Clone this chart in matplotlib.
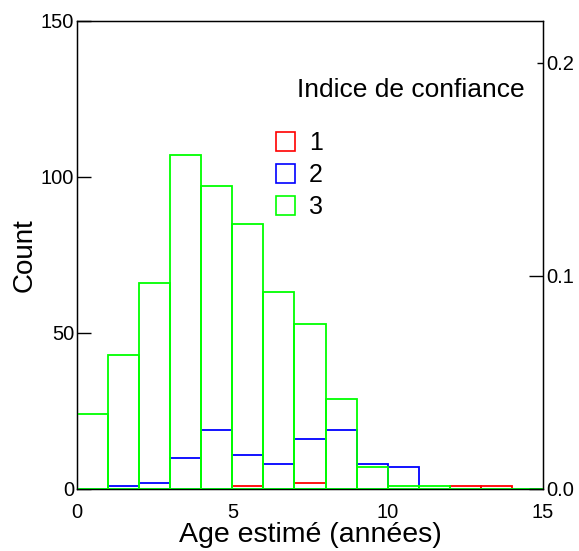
import matplotlib
matplotlib.use("Agg")
import matplotlib.pyplot as plt
import numpy as np
from matplotlib.patches import Patch

plt.rcParams["font.family"] = ["Liberation Sans", "DejaVu Sans"]

# histogram counts per 1-year bin (0-1, 1-2, ..., 14-15)
bin_edges = np.arange(0, 16)
counts_1 = [0, 0, 0, 0, 0, 1, 0, 2, 0, 0, 0, 0, 1, 1, 0]
counts_2 = [0, 1, 2, 10, 19, 11, 8, 16, 19, 8, 7, 0, 0, 0, 0]
counts_3 = [24, 43, 66, 107, 97, 85, 63, 53, 29, 7, 1, 1, 0, 0, 0]
series_labels = ["1", "2", "3"]
series_colors = ["#ff0000", "#0000ff", "#00ff00"]

left_ticks = [0, 50, 100, 150]
right_ticks = [0.0, 0.1, 0.2]
x_ticks = [0, 5, 10, 15]

W, H = 579, 551
fig = plt.figure(figsize=(W / 100, H / 100), dpi=100)
ax = fig.add_axes([77 / W, 1 - 489 / H, (543 - 77) / W, (489 - 21) / H])

for counts, col in zip([counts_1, counts_2, counts_3], series_colors):
    ax.bar(bin_edges[:-1], counts, width=1, align="edge", fill=False,
           edgecolor=col, linewidth=1.3, zorder=2)

ax.set_xlim(0, 15)
ax.set_ylim(0, 150)
ax.set_xticks(x_ticks)
ax.set_yticks(left_ticks)
ax.tick_params(axis="y", direction="in", length=10, width=1, pad=2, labelsize=14.5)
ax.tick_params(axis="x", length=0, pad=10, labelsize=14.5)
for s in ax.spines.values():
    s.set_linewidth(1)
    s.set_zorder(1)

ax.set_xlabel("Age estimé (années)", fontsize=20.5, labelpad=0)
ax.set_ylabel("Count", fontsize=20, labelpad=2)

ax2 = ax.twinx()
ax2.set_ylim(0, 150 * 0.1 / (213.0 / 3.12))
ax2.set_yticks(right_ticks)
ax2.set_yticklabels(["%.1f" % t for t in right_ticks])
ax2.tick_params(axis="y", direction="in", length=10, width=1, pad=2, labelsize=14.5)
ax2.yaxis.get_major_ticks()[2].tick2line.set_markersize(4)

handles = [Patch(facecolor="none", edgecolor=c, linewidth=1.2) for c in series_colors]
ax.legend(handles, series_labels, loc="upper left",
          bbox_to_anchor=(276 / W, 1 - 131 / H), bbox_transform=fig.transFigure,
          frameon=False, fontsize=18, handlelength=0.76, handleheight=0.76,
          handletextpad=0.55, labelspacing=0.32, borderpad=0, borderaxespad=0)
fig.text(297 / W, 1 - 90 / H, "Indice de confiance", fontsize=19,
         ha="left", va="center")

fig.savefig("out.png", dpi=100)
